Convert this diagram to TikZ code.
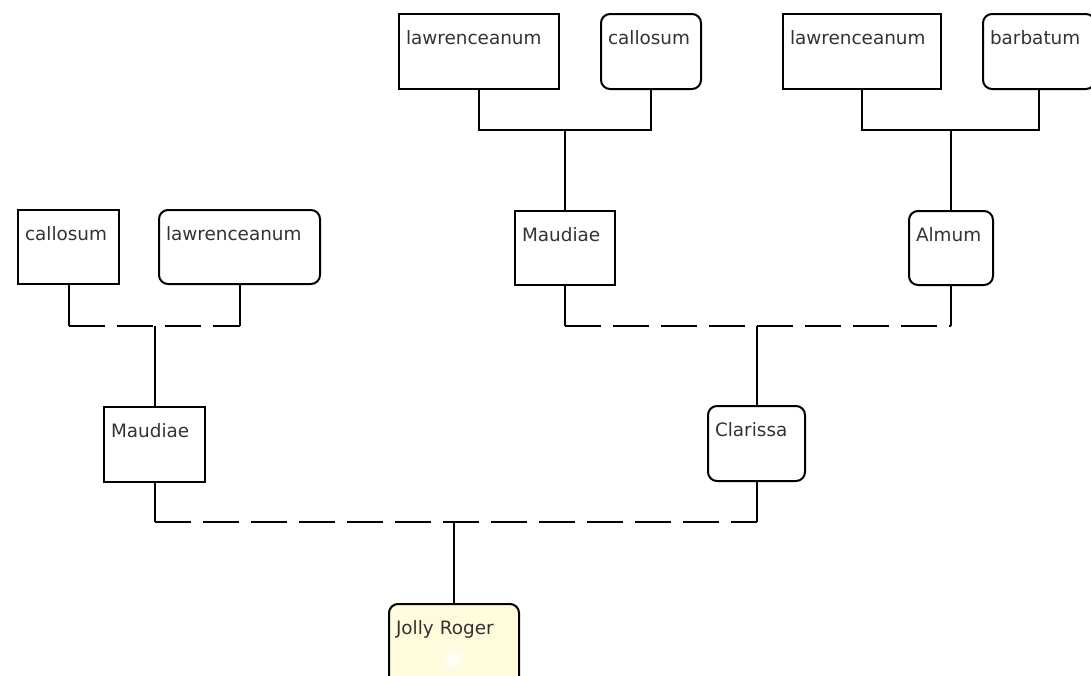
\documentclass[tikz,border=0pt]{standalone}
\usepackage{fontspec}
\usetikzlibrary{calc}
\setmainfont{DejaVu Sans}
\definecolor{jolly}{HTML}{FFFBDC}
\definecolor{txtcol}{HTML}{333333}
\begin{document}
\begin{tikzpicture}[x=1pt,y=-1pt,
  base/.style={draw=black, line width=2pt, fill=white, anchor=north west,
    inner xsep=7pt, inner ysep=0pt, align=left, text=txtcol,
    font=\fontsize{18.4}{22}\selectfont, text height=30pt},
  sqbox/.style={base},
  rdbox/.style={base, rounded corners=9pt},
  conn/.style={line width=2pt},
  dconn/.style={line width=2pt, dash pattern=on 36pt off 12pt}]
\useasboundingbox (0,0) rectangle (1091,675);
\clip (0,0) rectangle (1091,675);
\fill[white] (0,0) rectangle (1091,675);

% top row
\node[sqbox, text width=146pt, text depth=45pt] (A) at (398,13) {lawrenceanum};
\node[rdbox, text width=86pt,  text depth=45pt] (B) at (600,13) {callosum};
\node[sqbox, text width=144pt, text depth=45pt] (C) at (782,13) {lawrenceanum};
\node[rdbox, text width=98pt,  text depth=45pt] (D) at (982,13) {barbatum};

% middle row
\node[sqbox, text width=86pt,  text depth=44pt] (M1) at (514,210) {Maudiae};
\node[rdbox, text width=70pt,  text depth=44pt] (Al) at (908,210) {Almum};
\node[sqbox, text width=87pt,  text depth=44pt] (L1) at (17,209) {callosum};
\node[rdbox, text width=147pt, text depth=44pt] (L2) at (158,209) {lawrenceanum};

% lower row
\node[sqbox, text width=87pt, text depth=45pt] (M2) at (103,406) {Maudiae};
\node[rdbox, text width=83pt, text depth=45pt] (Cl) at (707,405) {Clarissa};

% bottom
\node[rdbox, fill=jolly, text width=116pt, text depth=60pt] (JR) at (388,603) {Jolly Roger};
\shade[inner color=white, outer color=jolly] (453,659) circle (13pt);

% connectors top
\coordinate (jt1) at (M1.north |- 0,130);
\draw[conn] (A.south) |- (jt1) -| (B.south);
\draw[conn] (jt1) -- (M1.north);
\coordinate (jt2) at (Al.north |- 0,130);
\draw[conn] (C.south) |- (jt2) -| (D.south);
\draw[conn] (jt2) -- (Al.north);

% connectors middle right
\coordinate (jm) at (Cl.north |- 0,326);
\draw[conn] (M1.south) -- (M1.south |- jm);
\draw[dconn] (M1.south |- jm) -- (Al.south |- jm);
\draw[conn] (Al.south) -- (Al.south |- jm);
\draw[conn] (jm) -- (Cl.north);

% connectors middle left
\coordinate (jl) at (M2.north |- 0,326);
\draw[conn] (L1.south) -- (L1.south |- jl);
\draw[dconn] (L1.south |- jl) -- (L2.south |- jl);
\draw[conn] (L2.south) -- (L2.south |- jl);
\draw[conn] (jl) -- (M2.north);

% connectors bottom
\coordinate (jb) at (JR.north |- 0,522);
\draw[conn] (M2.south) -- (M2.south |- jb);
\draw[dconn] (M2.south |- jb) -- (Cl.south |- jb);
\draw[conn] (Cl.south) -- (Cl.south |- jb);
\draw[conn] (jb) -- (JR.north);
\end{tikzpicture}
\end{document}
